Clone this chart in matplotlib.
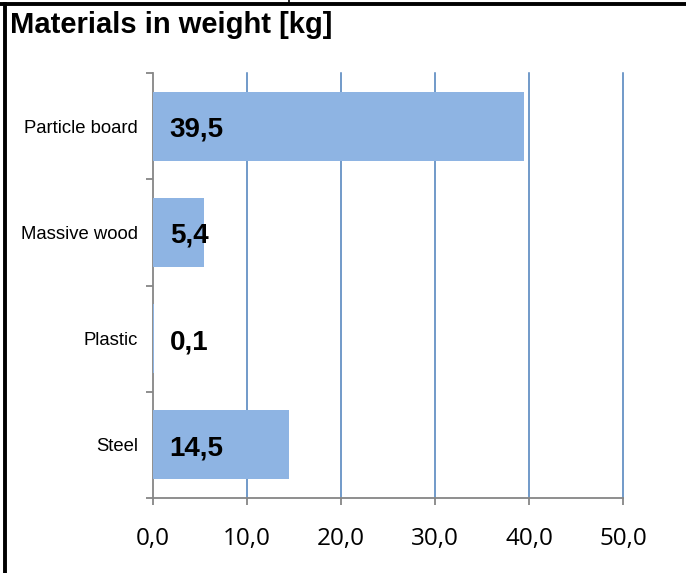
import matplotlib
matplotlib.use("Agg")
import matplotlib.pyplot as plt
from matplotlib.lines import Line2D
from matplotlib.ticker import FixedLocator

categories = ["Particle board", "Massive wood", "Plastic", "Steel"]
values = [39.5, 5.4, 0.1, 14.5]
value_labels = ["39,5", "5,4", "0,1", "14,5"]
xticks = [0, 10, 20, 30, 40, 50]
xtick_labels = ["0,0", "10,0", "20,0", "30,0", "40,0", "50,0"]
title = "Materials in weight [kg]"

W, H = 686, 573
fig = plt.figure(figsize=(W / 100, H / 100), dpi=100)
ax = fig.add_axes([153 / W, 75 / H, 470 / W, 425 / H])

ypos = list(range(len(categories)))
ax.barh(ypos, values, height=0.65, color="#8EB4E3", zorder=3)

ax.set_xlim(0, 50)
ax.set_ylim(len(categories) - 0.5, -0.5)

for x in xticks[1:]:
    ax.axvline(x, color="#4A7EBB", lw=1.1, zorder=1, clip_on=False)

for s in ["top", "right"]:
    ax.spines[s].set_visible(False)
for s in ["left", "bottom"]:
    ax.spines[s].set_color("#868686")
    ax.spines[s].set_linewidth(1.3)

ax.set_xticks(xticks)
ax.set_xticklabels(xtick_labels, fontfamily="Open Sans", fontsize=17.5)
ax.tick_params(axis="x", direction="out", length=5, width=1.3, color="#868686", pad=16)

ax.set_yticks(ypos)
ax.set_yticklabels(categories, fontfamily="Liberation Sans", fontsize=13.3)
ax.tick_params(axis="y", which="major", length=0, pad=11)
ax.yaxis.set_minor_locator(FixedLocator([i - 0.5 for i in range(len(categories) + 1)]))
ax.tick_params(axis="y", which="minor", direction="out", length=5, width=1.3, color="#868686")

for y, v, lab in zip(ypos, values, value_labels):
    ax.annotate(lab, xy=(0, y), xytext=(12, -2.5), textcoords="offset points",
                ha="left", va="center", fontsize=20, fontweight="bold",
                fontfamily="Liberation Sans", color="black", zorder=5)

fig.text(10 / W, 1 - 25 / H, title, ha="left", va="center", fontsize=21,
         fontweight="bold", fontfamily="Liberation Sans")

# frame lines
fig.add_artist(Line2D([0, 1], [1 - 3.5 / H, 1 - 3.5 / H], color="black", lw=2.8,
                      transform=fig.transFigure))
fig.add_artist(Line2D([4.5 / W, 4.5 / W], [0, 1 - 3.5 / H], color="black", lw=2.8,
                      transform=fig.transFigure))
fig.add_artist(Line2D([289 / W, 289 / W], [1 - 3.5 / H, 1], color="black", lw=1.2,
                      transform=fig.transFigure))

fig.savefig("out.png", dpi=100)
